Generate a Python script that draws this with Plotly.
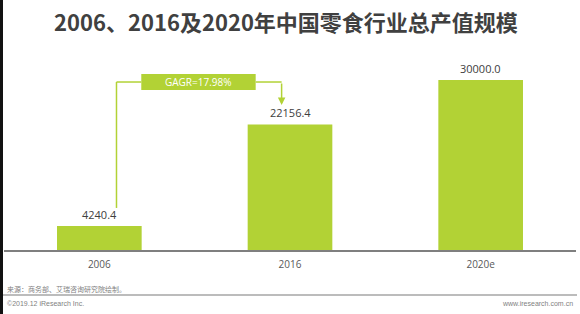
import plotly.graph_objects as go

categories = ["2006", "2016", "2020e"]
values = [4240.4, 22156.4, 30000.0]
value_labels = ["4240.4", "22156.4", "30000.0"]
cagr_label = "GAGR=17.98%"
title_text = "2006、2016及2020年中国零食行业总产值规模"
source_text = "来源：商务部、艾瑞咨询研究院绘制。"
copyright_text = "©2019.12 iResearch Inc."
site_text = "www.iresearch.com.cn"

GREEN = "#b2d235"
W, H = 580, 314
ML, MR, MT, MB = 4, 4, 46, 64
PW, PH = W - ML - MR, H - MT - MB


def px(x):
    return (x - ML) / PW


def py(y):
    return (H - MB - y) / PH


fig = go.Figure()
fig.add_trace(go.Bar(x=categories, y=values, marker_color=GREEN,
                     marker_line_width=0, hoverinfo="skip"))

annotations = []
for i, (v, t) in enumerate(zip(values, value_labels)):
    annotations.append(dict(x=i, y=v, xref="x", yref="y", text=t, showarrow=False,
                            yanchor="bottom", yshift=2,
                            font=dict(size=11, color="#404040",
                                      family="Open Sans, Noto Sans CJK SC")))

# CAGR connector (category-index coordinates)
y_line = values[2] * 0.9882
shapes = [
    dict(type="line", xref="x", yref="y", x0=0.09, x1=0.09, y0=values[0] * 1.75, y1=y_line,
         line=dict(color=GREEN, width=1.5)),
    dict(type="line", xref="x", yref="y", x0=0.09, x1=0.22, y0=y_line, y1=y_line,
         line=dict(color=GREEN, width=1.5)),
    dict(type="line", xref="x", yref="y", x0=0.82, x1=0.956, y0=y_line, y1=y_line,
         line=dict(color=GREEN, width=1.5)),
    dict(type="rect", xref="x", yref="y", x0=0.22, x1=0.82,
         y0=values[2] * 0.9412, y1=values[2] * 1.0353,
         fillcolor=GREEN, line=dict(width=0)),
    # footer line
    dict(type="line", xref="paper", yref="paper", x0=px(0), x1=px(577), y0=py(295), y1=py(295),
         line=dict(color="#a6a6a6", width=1.5)),
    # left dark border
    dict(type="rect", xref="paper", yref="paper", x0=px(0), x1=px(3), y0=py(H), y1=py(0),
         fillcolor="#111111", line=dict(width=0), layer="above"),
]

annotations.append(dict(x=0.956, y=values[1] * 1.155, ax=0.956, ay=y_line,
                        xref="x", yref="y", axref="x", ayref="y", text="",
                        showarrow=True, arrowhead=2, arrowsize=1, arrowwidth=1.5,
                        arrowcolor=GREEN))
annotations.append(dict(x=0.52, y=y_line, xref="x", yref="y", text=cagr_label,
                        showarrow=False, font=dict(size=10, color="white",
                                                   family="Open Sans, Noto Sans CJK SC")))

small_font = dict(size=7, color="#7f7f7f", family="Liberation Sans, Noto Sans CJK SC")
annotations.append(dict(x=px(5), y=py(289), xref="paper", yref="paper", text=source_text,
                        showarrow=False, xanchor="left", yanchor="middle", font=small_font))
annotations.append(dict(x=px(5), y=py(303), xref="paper", yref="paper", text=copyright_text,
                        showarrow=False, xanchor="left", yanchor="middle", font=small_font))
annotations.append(dict(x=px(575), y=py(303), xref="paper", yref="paper", text=site_text,
                        showarrow=False, xanchor="right", yanchor="middle", font=small_font))

fig.update_layout(
    width=W, height=H,
    margin=dict(l=ML, r=MR, t=MT, b=MB),
    paper_bgcolor="white", plot_bgcolor="white",
    bargap=0.556,
    showlegend=False,
    title=dict(text="<b>" + title_text + "</b>", x=286 / W, y=1 - 23 / H,
               xanchor="center", yanchor="middle", xref="container", yref="container",
               font=dict(size=22, color="#404040", family="Noto Sans CJK SC")),
    xaxis=dict(type="category", categoryorder="array", categoryarray=categories,
               range=[-0.5, len(categories) - 0.5],
               showline=True, linecolor="#7f7f7f", linewidth=1.5, showgrid=False,
               ticks="outside", ticklen=4, tickcolor="rgba(0,0,0,0)",
               tickfont=dict(size=10, color="#595959", family="Open Sans, Noto Sans CJK SC"),
               fixedrange=True),
    yaxis=dict(range=[0, 36000], visible=False, showgrid=False, fixedrange=True),
    shapes=shapes,
    annotations=annotations,
)

fig.write_html("out.html")
